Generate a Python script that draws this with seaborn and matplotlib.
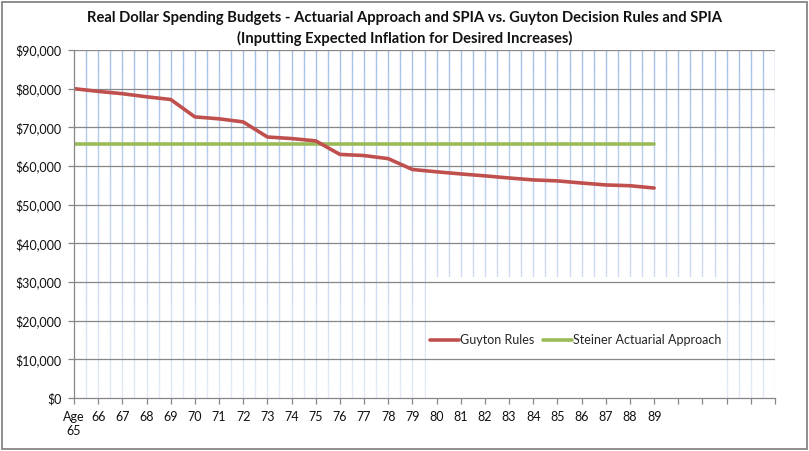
import numpy as np
import pandas as pd
import matplotlib
matplotlib.use("Agg")
import matplotlib.pyplot as plt
import matplotlib.patches as patches
from matplotlib.collections import LineCollection
from matplotlib.colors import to_rgb
from matplotlib.ticker import FuncFormatter
import seaborn as sns

## Chart data
ages = list(range(65, 90))
tick_labels = ["Age\n65"] + [str(a) for a in range(66, 90)] + ["", "", "", "", ""]
guyton = [80000, 79300, 78700, 77900, 77200, 72700, 72200, 71400, 67500, 67100,
          66500, 63000, 62700, 61900, 59100, 58500, 57950, 57450, 56900, 56400,
          56150, 55600, 55100, 54900, 54300]
steiner = [65700] * 25

df = pd.DataFrame({"pos": np.arange(len(ages)), "Guyton Rules": guyton,
                   "Steiner Actuarial Approach": steiner})

sns.set_theme(style="white")
plt.rcParams["font.family"] = ["Lato", "DejaVu Sans"]

fig = plt.figure(figsize=(8.09, 4.51), dpi=100)
ax = fig.add_axes([74 / 809, 53 / 451, 701 / 809, 348 / 451])

n_cat = len(tick_labels)
ax.set_xlim(0, n_cat - 1)
ax.set_ylim(0, 90000)

# vertical gridlines (Excel style, fading blue top to bottom)
top_c = np.array(to_rgb("#a4bfe9"))
bot_c = np.array(to_rgb("#e3e9f5"))
nseg = 30
yb = np.linspace(0, 90000, nseg + 1)
segs, cols = [], []
for gx in np.arange(0.5, n_cat - 0.5 + 0.01, 0.5):
    for i in range(nseg):
        segs.append([(gx, yb[i]), (gx, yb[i + 1])])
        t = (yb[i] + yb[i + 1]) / 2 / 90000
        cols.append(bot_c + (top_c - bot_c) * t)
ax.add_collection(LineCollection(segs, colors=cols, linewidths=1.0, zorder=0.5))

# white block behind the legend
ax.add_patch(patches.Rectangle((14.56, 0), 12.38, 31400, facecolor="white",
                               edgecolor="none", zorder=0.8))

# horizontal gridlines
for gy in range(10000, 90001, 10000):
    ax.axhline(gy, color="#878787", lw=0.9, zorder=1)

sns.lineplot(data=df, x="pos", y="Guyton Rules", color="#c0504d", lw=2.6,
             label="Guyton Rules", ax=ax, zorder=3)
sns.lineplot(data=df, x="pos", y="Steiner Actuarial Approach", color="#9bbb59",
             lw=2.6, label="Steiner Actuarial Approach", ax=ax, zorder=2)

ax.set_xticks(range(n_cat))
ax.set_xticklabels(tick_labels)
ax.set_yticks(range(0, 90001, 10000))
ax.yaxis.set_major_formatter(FuncFormatter(lambda v, p: "${:,.0f}".format(v)))
ax.set_xlabel("")
ax.set_ylabel("")
ax.tick_params(axis="both", which="major", direction="out", length=4.5, width=0.9,
               color="#878787", labelsize=9, labelcolor="#111111",
               bottom=True, left=True)
ax.tick_params(axis="x", pad=5)
ax.tick_params(axis="y", pad=4.5)

for side in ["top", "right"]:
    ax.spines[side].set_visible(False)
for side in ["left", "bottom"]:
    ax.spines[side].set_color("#878787")
    ax.spines[side].set_linewidth(0.9)
    ax.spines[side].set_zorder(4)

ax.legend(loc="center", bbox_to_anchor=(0.716, 0.167), ncol=2, frameon=False,
          fontsize=9, handlelength=2.3, handletextpad=0.1, columnspacing=0.7)

fig.text(0.5, 1 - 18 / 451, "Real Dollar Spending Budgets - Actuarial Approach and SPIA vs. Guyton Decision Rules and SPIA",
         ha="center", va="center", fontsize=10.6, fontweight="bold", color="#111111")
fig.text(0.5, 1 - 38 / 451, "(Inputting Expected Inflation for Desired Increases)",
         ha="center", va="center", fontsize=10.6, fontweight="bold", color="#111111")

# chart area border
fig.patches.append(patches.Rectangle((2 / 809, 2 / 451), 805 / 809, 447 / 451,
                                     transform=fig.transFigure, fill=False,
                                     edgecolor="#868686", lw=1.3))

fig.savefig("out.png", dpi=100)
